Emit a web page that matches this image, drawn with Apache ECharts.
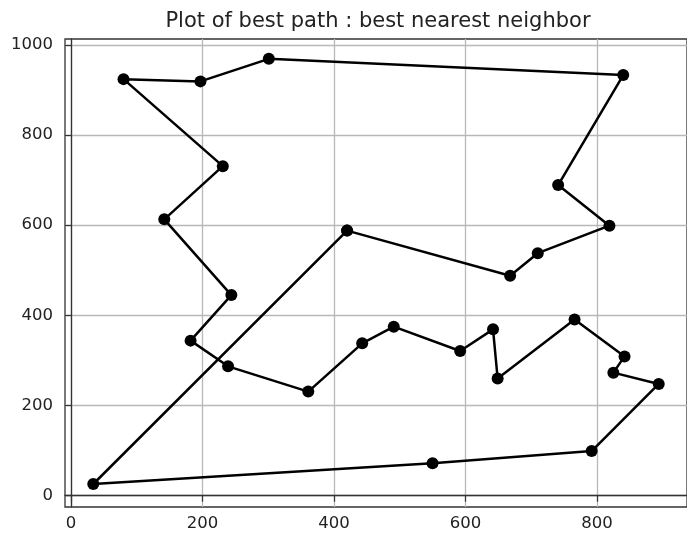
<!DOCTYPE html>
<html>
<head>
<meta charset="utf-8">
<script src="https://cdn.jsdelivr.net/npm/echarts@6/dist/echarts.min.js"></script>
<style>
html,body{margin:0;padding:0;background:#fff;}
#chart{width:687px;height:536px;}
</style>
</head>
<body>
<div id="chart"></div>
<script>
// Path order (closed tour)
const pathX = [420, 668, 710, 819, 741, 840, 301, 197, 80, 231, 142, 244, 182, 239, 361, 443, 491, 592, 642, 649, 766, 842, 825, 894, 792, 550, 34, 420];
const pathY = [588, 488, 538, 599, 689, 933, 969, 919, 924, 731, 613, 445, 344, 287, 231, 338, 375, 321, 369, 260, 391, 309, 273, 248, 99, 72, 26, 588];
const xTicks = [0, 200, 400, 600, 800];
const yTicks = [0, 200, 400, 600, 800, 1000];
const titleText = 'Plot of best path : best nearest neighbor';

const data = pathX.map((x, i) => [x, pathY[i]]);
const font = 'DejaVu Sans';
const textColor = '#222';

const chart = echarts.init(document.getElementById('chart'), null, {renderer: 'canvas'});
chart.setOption({
  animation: false,
  backgroundColor: '#fff',
  title: {
    text: titleText,
    left: 373, top: 6, textAlign: 'center',
    textStyle: {fontFamily: font, fontSize: 21, fontWeight: 'normal', color: textColor}
  },
  grid: {
    left: 65, top: 39, right: -6, bottom: 29,
    show: true, borderColor: '#333', borderWidth: 1.3, backgroundColor: 'transparent'
  },
  xAxis: {
    type: 'value', min: -9, max: 937,
    axisLine: {show: true, lineStyle: {color: '#333', width: 1.3}},
    axisTick: {show: true, length: 6, inside: false, customValues: xTicks, lineStyle: {color: '#333', width: 1.2}},
    axisLabel: {customValues: xTicks, margin: 8, fontFamily: font, fontSize: 16.5, color: textColor,
      formatter: v => String(v)},
    splitLine: {show: true, lineStyle: {color: '#b8b8b8', width: 1.3}}
  },
  yAxis: {
    type: 'value', min: -25, max: 1013,
    axisLine: {show: true, lineStyle: {color: '#333', width: 1.3}},
    axisTick: {show: true, length: 6, inside: false, customValues: yTicks, lineStyle: {color: '#333', width: 1.2}},
    axisLabel: {customValues: yTicks, margin: 12, fontFamily: font, fontSize: 16.5, color: textColor,
      formatter: v => String(v)},
    splitLine: {show: true, lineStyle: {color: '#b8b8b8', width: 1.3}}
  },
  series: [{
    type: 'line',
    data: data,
    symbol: 'circle',
    symbolSize: 12,
    showAllSymbol: true,
    lineStyle: {color: '#000', width: 2.5},
    itemStyle: {color: '#000'},
    clip: false
  }]
});
</script>
</body>
</html>
